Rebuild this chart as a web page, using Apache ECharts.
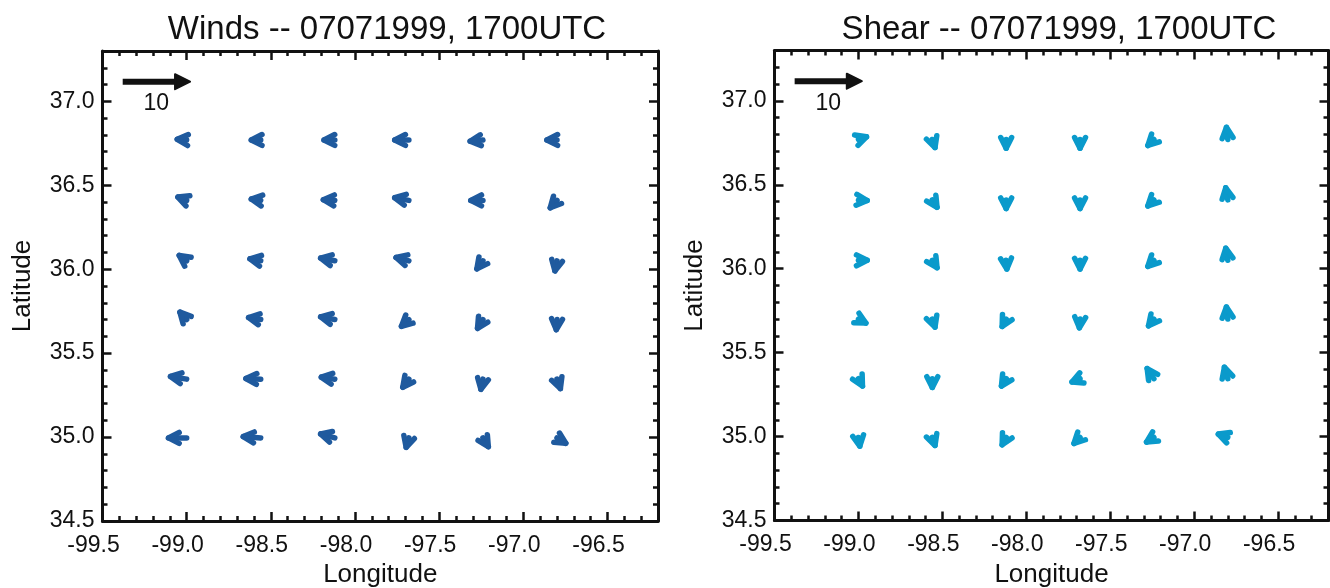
<!DOCTYPE html>
<html>
<head>
<meta charset="utf-8">
<script src="https://cdn.jsdelivr.net/npm/echarts@6/dist/echarts.min.js"></script>
<style>
html, body { margin: 0; background: #fff; }
#chart { width: 1330px; height: 588px; }
</style>
</head>
<body>
<div id="chart"></div>
<script>
// grid points (tails of the vectors)
var lonGrid = [-99.0, -98.56, -98.12, -97.68, -97.24, -96.80];
var latGrid = [36.77, 36.41, 36.05, 35.70, 35.345, 34.995]; // north -> south

// wind components, rows north -> south
var windU = [
	[-1.4, -1.4, -1.6, -2.1, -1.9, -1.5],
	[-1.3, -1.4, -1.7, -2.1, -1.8, -1.0],
	[-1.1, -1.6, -2.1, -1.9, -0.9, -0.3],
	[-1.0, -1.8, -2.1, -1.1, -0.8, -0.1],
	[-2.4, -2.2, -2.0, -0.9, -0.3, 0.5],
	[-2.7, -2.6, -2.1, -0.4, 0.8, 1.3]
];
var windV = [
	[0.1, 0.0, 0.0, 0.0, -0.2, 0.0],
	[0.5, 0.2, 0.1, 0.4, 0.0, -1.1],
	[0.8, 0.3, 0.4, 0.5, -1.2, -1.5],
	[1.1, 0.3, 0.4, -1.0, -1.3, -1.5],
	[0.4, 0.1, 0.3, -1.2, -1.5, -1.4],
	[0.0, 0.2, 0.6, -1.4, -1.3, -0.8]
];

// shear components, rows north -> south
var shearU = [
	[1.2, 0.4, 0.0, 0.0, -0.9, -0.2],
	[1.3, 0.7, 0.0, 0.0, -0.9, -0.3],
	[1.3, 0.7, 0.1, 0.0, -0.9, -0.3],
	[1.1, 0.4, -0.6, -0.1, -0.8, -0.2],
	[0.6, 0.0, -0.7, -1.2, -1.0, -0.5],
	[0.2, 0.4, -0.6, -0.9, -1.1, -1.4]
];
var shearV = [
	[0.4, -1.2, -1.3, -1.3, -0.9, 1.8],
	[-0.1, -1.1, -1.3, -1.3, -0.9, 1.8],
	[0.0, -1.1, -1.3, -1.3, -0.9, 1.8],
	[-0.6, -1.2, -1.1, -1.3, -1.0, 1.8],
	[-1.1, -1.3, -1.1, -0.5, 1.5, 1.7],
	[-1.3, -1.2, -1.1, -0.9, -0.7, 0.5]
];

// reference arrow: [lon, lat, u, v]
var refArrow = [-99.38, 37.117, 10, 0];
var refLabel = '10';

var lonRange = [-99.5, -96.2];
var latRange = [34.5, 37.3];
var degPerUnit = 0.04;

var titles = ['Winds -- 07071999, 1700UTC', 'Shear -- 07071999, 1700UTC'];

function gridData(U, V) {
	var out = [];
	for (var i = 0; i < latGrid.length; i++) {
		for (var j = 0; j < lonGrid.length; j++) {
			out.push([lonGrid[j], latGrid[i], U[i][j], V[i][j]]);
		}
	}
	return out;
}

// shaft plus an open chevron head of fixed size, drawn with thick round lines
function arrowShapes(api, lon, lat, u, v, color, lw) {
	var p0 = api.coord([lon, lat]);
	var p1 = api.coord([lon + u * degPerUnit, lat + v * degPerUnit]);
	var dx = p1[0] - p0[0], dy = p1[1] - p0[1];
	var len = Math.sqrt(dx * dx + dy * dy) || 1;
	var ux = dx / len, uy = dy / len;
	var arm = 12, ang = 27 * Math.PI / 180;
	var c = Math.cos(ang), s = Math.sin(ang);
	var b1 = [p1[0] - arm * (ux * c - uy * s), p1[1] - arm * (uy * c + ux * s)];
	var b2 = [p1[0] - arm * (ux * c + uy * s), p1[1] - arm * (uy * c - ux * s)];
	var st = { stroke: color, lineWidth: lw, lineCap: 'round', lineJoin: 'round', fill: null };
	return [
		{ type: 'line', shape: { x1: p0[0], y1: p0[1], x2: p1[0], y2: p1[1] }, style: st },
		{ type: 'polyline', shape: { points: [b1, p1, b2] }, style: st }
	];
}

// the key arrow has a solid triangular head
function keyArrowShapes(api, lon, lat, u, v, color) {
	var p0 = api.coord([lon, lat]);
	var p1 = api.coord([lon + u * degPerUnit, lat + v * degPerUnit]);
	var dx = p1[0] - p0[0], dy = p1[1] - p0[1];
	var len = Math.sqrt(dx * dx + dy * dy) || 1;
	var ux = dx / len, uy = dy / len, nx = -uy, ny = ux;
	var H = 15, W = 7.5;
	return [
		{ type: 'line', shape: { x1: p0[0], y1: p0[1], x2: p1[0] - ux * H * 0.8, y2: p1[1] - uy * H * 0.8 },
			style: { stroke: color, lineWidth: 6 } },
		{ type: 'polygon', shape: { points: [
			[p1[0], p1[1]],
			[p1[0] - ux * H + nx * W, p1[1] - uy * H + ny * W],
			[p1[0] - ux * H - nx * W, p1[1] - uy * H - ny * W]
		] }, style: { fill: color, stroke: color, lineWidth: 2, lineJoin: 'round' } }
	];
}

function vectorSeries(idx, data, color) {
	return {
		type: 'custom',
		xAxisIndex: idx * 4,
		yAxisIndex: idx * 4,
		data: data,
		silent: true,
		clip: false,
		renderItem: function (params, api) {
			return { type: 'group', children: arrowShapes(api, api.value(0), api.value(1), api.value(2), api.value(3), color, 5.5) };
		}
	};
}

function refSeries(idx) {
	return {
		type: 'custom',
		xAxisIndex: idx * 4,
		yAxisIndex: idx * 4,
		data: [refArrow],
		silent: true,
		renderItem: function (params, api) {
			var kids = keyArrowShapes(api, api.value(0), api.value(1), api.value(2), api.value(3), '#111');
			var a = api.coord([api.value(0), api.value(1)]);
			var b = api.coord([api.value(0) + api.value(2) * degPerUnit, api.value(1)]);
			kids.push({
				type: 'text',
				style: {
					text: refLabel, x: (a[0] + b[0]) / 2, y: a[1] + 22,
					align: 'center', verticalAlign: 'middle',
					font: '23px "Liberation Sans"', fill: '#111'
				}
			});
			return { type: 'group', children: kids };
		}
	};
}

var axisColor = '#111';
var fmt = function (v) { return v.toFixed(1); };
var labelFont = { fontSize: 23, color: '#111', fontFamily: 'Liberation Sans' };

function xAxes(g) {
	var base = { type: 'value', gridIndex: g, min: lonRange[0], max: lonRange[1], splitLine: { show: false } };
	return [
		Object.assign({}, base, {
			position: 'bottom', interval: 0.5,
			axisLine: { show: true, onZero: false, lineStyle: { color: axisColor, width: 3 } },
			axisTick: { inside: true, length: 9, lineStyle: { color: axisColor, width: 2.5 } },
			axisLabel: Object.assign({ formatter: fmt, margin: 13, padding: [0, 18, 0, 0], showMaxLabel: false }, labelFont),
			name: 'Longitude', nameLocation: 'middle', nameGap: 38,
			nameTextStyle: { fontSize: 26, color: '#111', fontFamily: 'Liberation Sans' }
		}),
		Object.assign({}, base, {
			position: 'bottom', interval: 0.1,
			axisLine: { show: false },
			axisTick: { inside: true, length: 5, lineStyle: { color: axisColor, width: 2.5 } },
			axisLabel: { show: false }
		}),
		Object.assign({}, base, {
			position: 'top', interval: 0.5,
			axisLine: { show: true, onZero: false, lineStyle: { color: axisColor, width: 3 } },
			axisTick: { inside: true, length: 9, lineStyle: { color: axisColor, width: 2.5 } },
			axisLabel: { show: false }
		}),
		Object.assign({}, base, {
			position: 'top', interval: 0.1,
			axisLine: { show: false },
			axisTick: { inside: true, length: 5, lineStyle: { color: axisColor, width: 2.5 } },
			axisLabel: { show: false }
		})
	];
}

function yAxes(g) {
	var base = { type: 'value', gridIndex: g, min: latRange[0], max: latRange[1], splitLine: { show: false } };
	return [
		Object.assign({}, base, {
			position: 'left', interval: 0.5,
			axisLine: { show: true, onZero: false, lineStyle: { color: axisColor, width: 3 } },
			axisTick: { inside: true, length: 9, lineStyle: { color: axisColor, width: 2.5 } },
			axisLabel: Object.assign({ formatter: fmt, margin: 8, padding: [4, 0, 0, 0], showMaxLabel: false }, labelFont),
			name: 'Latitude', nameLocation: 'middle', nameGap: 67,
			nameTextStyle: { fontSize: 26, color: '#111', fontFamily: 'Liberation Sans' }
		}),
		Object.assign({}, base, {
			position: 'left', interval: 0.1,
			axisLine: { show: false },
			axisTick: { inside: true, length: 5, lineStyle: { color: axisColor, width: 2.5 } },
			axisLabel: { show: false }
		}),
		Object.assign({}, base, {
			position: 'right', interval: 0.5,
			axisLine: { show: true, onZero: false, lineStyle: { color: axisColor, width: 3 } },
			axisTick: { inside: true, length: 9, lineStyle: { color: axisColor, width: 2.5 } },
			axisLabel: { show: false }
		}),
		Object.assign({}, base, {
			position: 'right', interval: 0.1,
			axisLine: { show: false },
			axisTick: { inside: true, length: 5, lineStyle: { color: axisColor, width: 2.5 } },
			axisLabel: { show: false }
		})
	];
}

var titleStyle = { fontSize: 33, fontWeight: 'normal', color: '#111', fontFamily: 'Liberation Sans' };

var option = {
	animation: false,
	backgroundColor: '#fff',
	title: [
		{ text: titles[0], left: 382, top: 8, textAlign: 'center', textStyle: titleStyle },
		{ text: titles[1], left: 1054, top: 8, textAlign: 'center', textStyle: titleStyle }
	],
	grid: [
		{ left: 102.5, top: 51, width: 555.5, height: 470, outerBoundsMode: 'none' },
		{ left: 774.5, top: 50.5, width: 554, height: 470, outerBoundsMode: 'none' }
	],
	xAxis: xAxes(0).concat(xAxes(1)),
	yAxis: yAxes(0).concat(yAxes(1)),
	series: [
		vectorSeries(0, gridData(windU, windV), '#1f5a9e'),
		refSeries(0),
		vectorSeries(1, gridData(shearU, shearV), '#0a9acb'),
		refSeries(1)
	]
};

var chart = echarts.init(document.getElementById('chart'));
chart.setOption(option);
</script>
</body>
</html>
